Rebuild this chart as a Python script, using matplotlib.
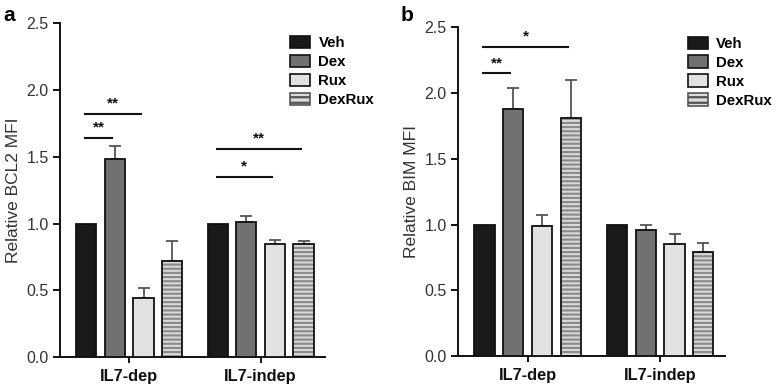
import numpy as np
import matplotlib
matplotlib.use('Agg')
import matplotlib.pyplot as plt
import matplotlib.patches as mpatches

plt.rcParams['font.family'] = ['Liberation Sans', 'DejaVu Sans']
plt.rcParams['hatch.linewidth'] = 1.6

groups = ['IL7-dep', 'IL7-indep']
treatments = ['Veh', 'Dex', 'Rux', 'DexRux']

# panel a: relative BCL2 MFI, rows = treatment, cols = group
bcl2_mean = [[1.00, 1.00], [1.48, 1.01], [0.44, 0.85], [0.72, 0.85]]
bcl2_err = [[0.00, 0.00], [0.10, 0.05], [0.08, 0.03], [0.15, 0.02]]
# significance: (group, i, j, height, label)
bcl2_sig = [(0, 0, 1, 1.64, '**'), (0, 0, 2, 1.82, '**'),
            (1, 0, 2, 1.35, '*'), (1, 0, 3, 1.56, '**')]

# panel b: relative BIM MFI
bim_mean = [[1.00, 1.00], [1.88, 0.96], [0.99, 0.85], [1.81, 0.79]]
bim_err = [[0.00, 0.00], [0.16, 0.04], [0.08, 0.08], [0.29, 0.07]]
bim_sig = [(0, 0, 1, 2.15, '**'), (0, 0, 3, 2.35, '*')]

faces = ['#1a1a1a', '#717171', '#e2e2e2', '#dcdcdc']
hatches = [None, None, None, '----']
hatch_col = '#8c8c8c'

spacing = 0.218
width = 0.153
offsets = (np.arange(4) - 1.5) * spacing
centers = np.arange(len(groups))


def draw_panel(ax, means, errs, sigs, ylabel, leg_anchor):
    for i, name in enumerate(treatments):
        xs = centers + offsets[i]
        if hatches[i]:
            ax.bar(xs, means[i], width, color=faces[i], edgecolor=hatch_col,
                   hatch=hatches[i], linewidth=0, zorder=2)
            ax.bar(xs, means[i], width, facecolor='none',
                   edgecolor='#111111', linewidth=1.3, zorder=3)
        else:
            ax.bar(xs, means[i], width, color=faces[i],
                   edgecolor='#111111', linewidth=1.3, zorder=3)
        e = np.array(errs[i])
        keep = e > 0
        if keep.any():
            ax.errorbar(xs[keep], np.array(means[i])[keep],
                        yerr=[np.zeros(keep.sum()), e[keep]], fmt='none',
                        ecolor='#555555', elinewidth=1.3, capsize=4,
                        capthick=1.3, zorder=1)

    # legend proxies (hatched one for DexRux)
    proxies = []
    for i, name in enumerate(treatments):
        if hatches[i]:
            p = mpatches.Patch(facecolor=faces[i], edgecolor='#555555',
                               hatch='---', linewidth=1.2, label=name)
        else:
            p = mpatches.Patch(facecolor=faces[i], edgecolor='#111111',
                               linewidth=1.2, label=name)
        proxies.append(p)
    ax.legend(handles=proxies, loc='upper left', bbox_to_anchor=leg_anchor,
              frameon=False, borderpad=0, borderaxespad=0,
              handlelength=1.35, handleheight=0.9, handletextpad=0.55,
              labelspacing=0.3, prop={'weight': 'bold', 'size': 10.8})

    for g, i, j, h, lab in sigs:
        x0 = centers[g] + offsets[i] - 0.015
        x1 = centers[g] + offsets[j] - 0.015
        ax.plot([x0, x1], [h, h], color='#111111', lw=1.5, solid_capstyle='butt')
        ax.text((x0 + x1) / 2, h + 0.025, lab, ha='center', va='bottom',
                fontsize=11, fontweight='bold', color='#111111')

    ax.set_xlim(-0.527, 1.49)
    ax.set_ylim(0, 2.5)
    ax.set_yticks(np.arange(0, 2.51, 0.5))
    ax.set_yticklabels(['%.1f' % v for v in np.arange(0, 2.51, 0.5)])
    ax.set_xticks(centers)
    ax.set_xticklabels(groups, fontweight='bold', fontsize=11.8, color='#111111')
    ax.set_ylabel(ylabel, fontsize=12.5, color='#333333', labelpad=4)
    for s in ['top', 'right']:
        ax.spines[s].set_visible(False)
    for s in ['left', 'bottom']:
        ax.spines[s].set_linewidth(1.4)
        ax.spines[s].set_color('#111111')
    ax.tick_params(axis='y', direction='out', length=5, width=1.3,
                   labelsize=11.5, labelcolor='#333333', pad=3)
    ax.tick_params(axis='x', direction='out', length=4, width=1.3, pad=5)


fig = plt.figure(figsize=(7.77, 3.88), dpi=100)
ax1 = fig.add_axes([0.0772, 0.0799, 0.341, 0.860])
ax2 = fig.add_axes([0.5894, 0.0825, 0.3436, 0.847])

draw_panel(ax1, bcl2_mean, bcl2_err, bcl2_sig, 'Relative BCL2 MFI', (0.868, 0.962))
draw_panel(ax2, bim_mean, bim_err, bim_sig, 'Relative BIM MFI', (0.861, 0.972))

fig.text(0.004, 0.985, 'a', fontsize=15, fontweight='bold', va='top', ha='left')
fig.text(0.515, 0.985, 'b', fontsize=15, fontweight='bold', va='top', ha='left')

fig.savefig('out.png', dpi=100)
